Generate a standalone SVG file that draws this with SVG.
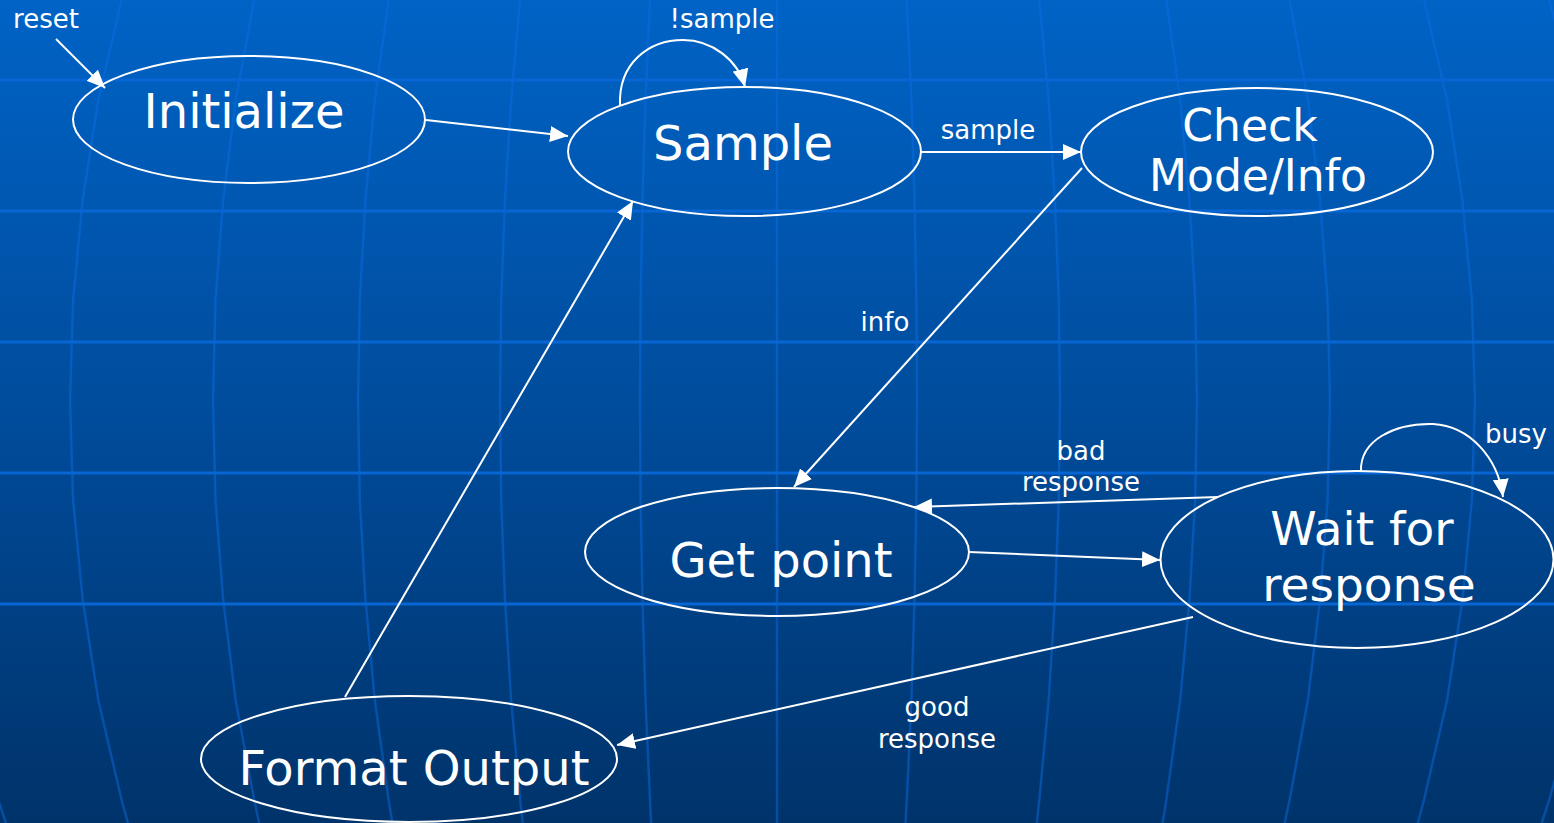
<svg xmlns="http://www.w3.org/2000/svg" width="1554" height="823" viewBox="0 0 1554 823">
<style>
.node ellipse{fill:none;stroke:#ffffff;stroke-width:2}
.node text{fill:#ffffff;font-family:"DejaVu Sans",Verdana,sans-serif;font-size:48px;text-anchor:middle}
.edge path{fill:none;stroke:#ffffff;stroke-width:2;marker-end:url(#arr)}
.edge text{fill:#ffffff;font-family:"DejaVu Sans",Verdana,sans-serif;font-size:26px;text-anchor:middle}
.mer{fill:none;stroke:#0a6ee6;stroke-opacity:0.45;stroke-width:2.5}
.hor{stroke:#0766d4;stroke-width:3}
</style>
<defs>
<linearGradient id="bg" x1="0" y1="0" x2="0" y2="1">
<stop offset="0" stop-color="#0063c6"/>
<stop offset="0.5" stop-color="#004c9c"/>
<stop offset="1" stop-color="#00336a"/>
</linearGradient>
<marker id="arr" markerUnits="userSpaceOnUse" markerWidth="19" markerHeight="16" refX="18" refY="8" orient="auto">
<path d="M0,0 L18,8 L0,16 z" fill="#ffffff"/>
</marker>
</defs>
<g id="background">
<rect x="0" y="0" width="1554" height="823" fill="url(#bg)"/>
<polyline class="mer" points="-1.7,0 -29.4,100 -47.9,200 -59.3,300 -63,400 -59.3,500 -47.9,600 -29.4,700 -1.7,800 5.9,823"/>
<polyline class="mer" points="121.6,0 98.3,100 82.7,200 73.1,300 70,400 73.1,500 82.7,600 98.3,700 121.6,800 128,823"/>
<polyline class="mer" points="254.2,0 235.6,100 223.2,200 215.5,300 213,400 215.5,500 223.2,600 235.6,700 254.2,800 259.2,823"/>
<polyline class="mer" points="388.6,0 374.8,100 365.5,200 359.8,300 358,400 359.8,500 365.5,600 374.8,700 388.6,800 392.4,823"/>
<polyline class="mer" points="520.2,0 511.1,100 505,200 501.2,300 500,400 501.2,500 505,600 511.1,700 520.2,800 522.7,823"/>
<polyline class="mer" points="650,0 645.5,100 642.5,200 640.6,300 640,400 640.6,500 642.5,600 645.5,700 650,800 651.2,823"/>
<polyline class="mer" points="777,0 777,823"/>
<polyline class="mer" points="906.8,0 911.4,100 914.5,200 916.4,300 917,400 916.4,500 914.5,600 911.4,700 906.8,800 905.5,823"/>
<polyline class="mer" points="1039.3,0 1048.7,100 1054.9,200 1058.8,300 1060,400 1058.8,500 1054.9,600 1048.7,700 1039.3,800 1036.8,823"/>
<polyline class="mer" points="1166.3,0 1180.2,100 1189.4,200 1195.2,300 1197,400 1195.2,500 1189.4,600 1180.2,700 1166.3,800 1162.6,823"/>
<polyline class="mer" points="1289.6,0 1307.9,100 1320,200 1327.6,300 1330,400 1327.6,500 1320,600 1307.9,700 1289.6,800 1284.7,823"/>
<polyline class="mer" points="1424,0 1447.1,100 1462.4,200 1471.9,300 1475,400 1471.9,500 1462.4,600 1447.1,700 1424,800 1417.8,823"/>
<polyline class="mer" points="1549.2,0 1576.7,100 1595,200 1606.3,300 1610,400 1606.3,500 1595,600 1576.7,700 1549.2,800 1541.7,823"/>
<line class="hor" x1="0" y1="80" x2="1554" y2="80"/>
<line class="hor" x1="0" y1="211" x2="1554" y2="211"/>
<line class="hor" x1="0" y1="342" x2="1554" y2="342"/>
<line class="hor" x1="0" y1="473" x2="1554" y2="473"/>
<line class="hor" x1="0" y1="604" x2="1554" y2="604"/>
</g>
<g id="connectors">
<g class="edge" id="e-reset"><path d="M56,39 L105,88"/><text x="46" y="28">reset</text></g>
<g class="edge" id="e-init-sample"><path d="M426,120 L568,136"/></g>
<g class="edge" id="e-sample-loop"><path d="M620,106 C618,62 650,40 683,40 C712,40 738,60 745,87"/><text x="722" y="28">!sample</text></g>
<g class="edge" id="e-sample-check"><path d="M921,152 L1081,152"/><text x="988" y="139">sample</text></g>
<g class="edge" id="e-check-get"><path d="M1082,168 L794,487"/><text x="885" y="331">info</text></g>
<g class="edge" id="e-wait-get"><path d="M1218,497 L914,507"/><text x="1081" y="460">bad</text><text x="1081" y="491">response</text></g>
<g class="edge" id="e-get-wait"><path d="M969,552 L1160,560"/></g>
<g class="edge" id="e-wait-loop"><path d="M1361,471 C1360,440 1395,423 1433,424 C1470,426 1498,458 1503,497"/><text x="1516" y="443">busy</text></g>
<g class="edge" id="e-wait-format"><path d="M1193,617 L617,745"/><text x="937" y="716">good</text><text x="937" y="748">response</text></g>
<g class="edge" id="e-format-sample"><path d="M345,697 L633,201"/></g>
</g>
<g class="node" id="n-initialize"><ellipse cx="249" cy="119.5" rx="176" ry="63.5"/><text x="244" y="128">Initialize</text></g>
<g class="node" id="n-sample"><ellipse cx="744.5" cy="151.5" rx="176.5" ry="64.5"/><text x="743" y="160">Sample</text></g>
<g class="node" id="n-check"><ellipse cx="1257" cy="152" rx="176" ry="64"/><text x="1250" y="141" style="font-size:44px">Check</text><text x="1258" y="191" style="font-size:44px">Mode/Info</text></g>
<g class="node" id="n-getpoint"><ellipse cx="777" cy="552" rx="192" ry="64"/><text x="781" y="577">Get point</text></g>
<g class="node" id="n-wait"><ellipse cx="1357" cy="559.5" rx="196.5" ry="88.5"/><text x="1362" y="545" style="font-size:47px">Wait for</text><text x="1369" y="601" style="font-size:47px">response</text></g>
<g class="node" id="n-format"><ellipse cx="409" cy="759" rx="208" ry="63"/><text x="414" y="785">Format Output</text></g>
</svg>
